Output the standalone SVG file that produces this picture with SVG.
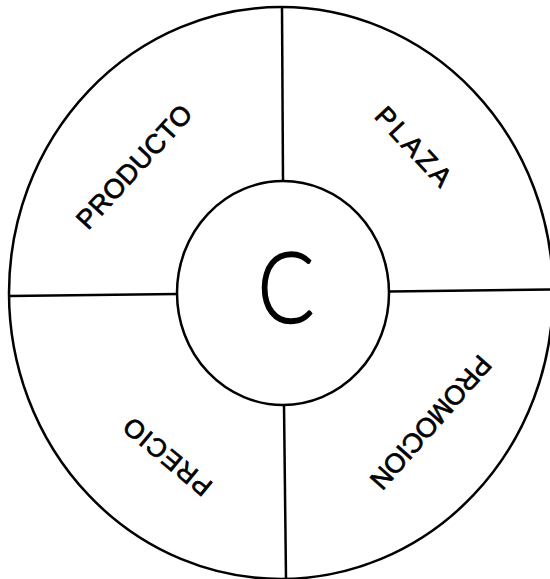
<svg xmlns="http://www.w3.org/2000/svg" width="550" height="579" viewBox="0 0 550 579">
<style>
.ring{fill:none;stroke:#000;stroke-width:2.5}
.div{stroke:#000;stroke-width:2.5;fill:none}
.lbl{font-family:"Liberation Sans",Arial,sans-serif;font-size:27px;fill:#000;stroke:#000;stroke-width:0.7;text-anchor:middle}
.core{font-family:Lato,"Liberation Sans",sans-serif;font-weight:300;font-size:98px;fill:#000;stroke:#000;stroke-width:1.6;text-anchor:middle}
</style>
<rect width="550" height="579" fill="#fff"/>
<g id="outer">
<ellipse class="ring" cx="281" cy="293" rx="272" ry="286"/>
</g>
<g id="connectors">
<line class="div" x1="282" y1="7" x2="283" y2="181"/>
<line class="div" x1="284" y1="405" x2="286" y2="579"/>
<line class="div" x1="9" y1="296" x2="178" y2="294"/>
<line class="div" x1="389" y1="291.5" x2="550" y2="289.5"/>
</g>
<g id="center">
<ellipse class="ring" cx="283" cy="293" rx="106" ry="112"/>
<text class="core" transform="translate(286,323) scale(0.86,1)">C</text>
</g>
<g id="producto">
<text class="lbl" transform="translate(141,173) rotate(-47.5)" textLength="157" lengthAdjust="spacing">PRODUCTO</text>
</g>
<g id="plaza">
<text class="lbl" transform="translate(406.7,152.8) rotate(46.8)" textLength="98" lengthAdjust="spacing">PLAZA</text>
</g>
<g id="precio">
<text class="lbl" style="font-size:26px" transform="translate(173.2,449.8) rotate(219.7)" textLength="106" lengthAdjust="spacing">PRECIO</text>
</g>
<g id="promocion">
<text class="lbl" transform="translate(423.8,416.2) rotate(131.4)" textLength="168" lengthAdjust="spacing">PROMOCION</text>
</g>
</svg>
